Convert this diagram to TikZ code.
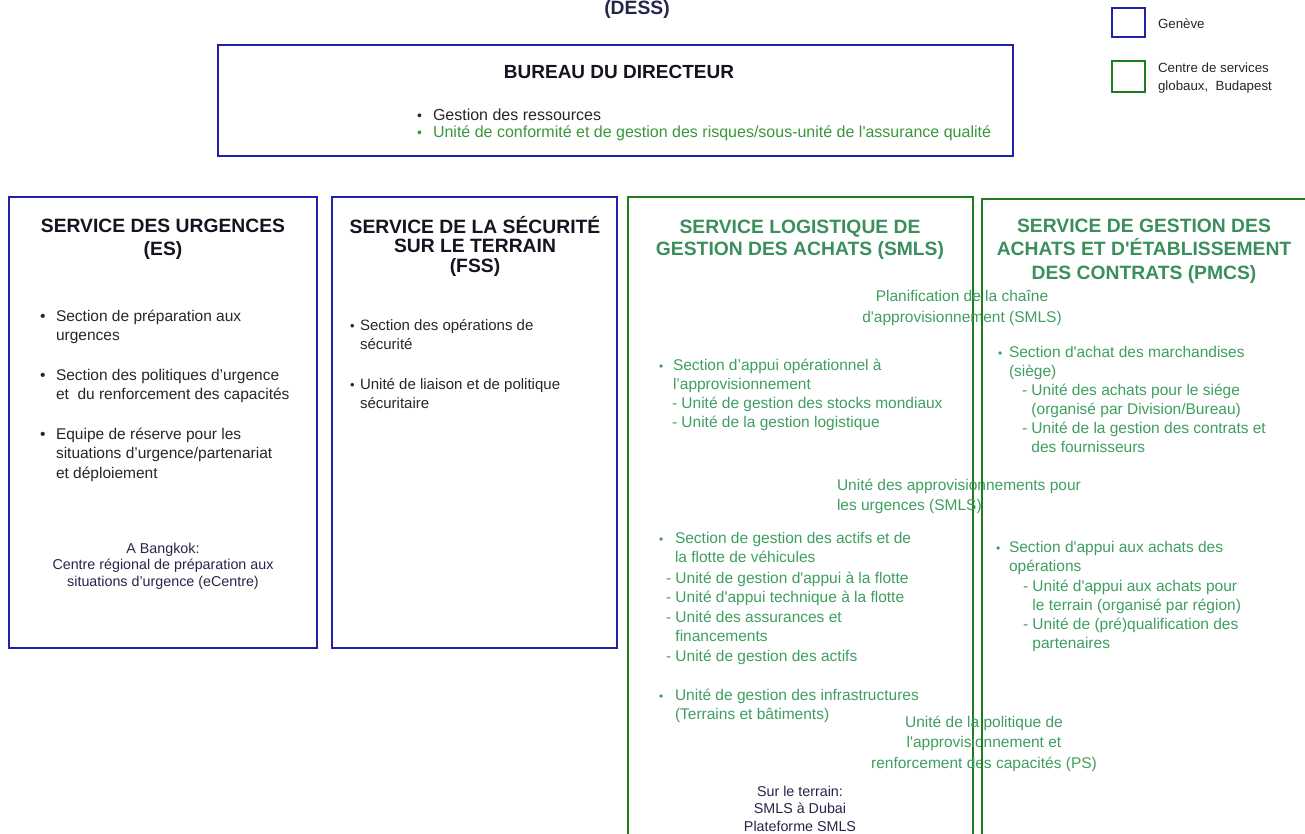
\documentclass[tikz,border=0pt]{standalone}
\usepackage{fontspec}
\setmainfont{Liberation Sans}
\newfontfamily\lsans{Liberation Sans}
\definecolor{bluebox}{HTML}{2020A8}
\definecolor{greenbox}{HTML}{1E7E1E}
\definecolor{gtitle}{HTML}{3A8F5C}
\definecolor{gtext}{HTML}{3E9E60}
\definecolor{gbureau}{HTML}{3A963A}
\definecolor{dtext}{HTML}{262626}
\definecolor{navy}{HTML}{25254A}
\definecolor{ttext}{HTML}{141420}
\setlength{\lineskiplimit}{-100pt}
\begin{document}
\begin{tikzpicture}[x=1pt,y=-1pt,
  every node/.style={inner sep=0pt,outer sep=0pt},
  bframe/.style={draw=bluebox,line width=1.8pt,anchor=north west},
  gframe/.style={draw=greenbox,line width=1.8pt,anchor=north west},
  ttl/.style={anchor=base,align=center,text=ttext,font=\lsans\bfseries\fontsize{19.3}{#1}\selectfont},
  gttl/.style={anchor=base,align=center,text=gtitle,font=\lsans\bfseries\fontsize{19.3}{#1}\selectfont},
  body/.style={anchor=base west,align=left,text=dtext,font=\lsans\fontsize{15.5}{#1}\selectfont},
  gbody/.style={anchor=base west,align=left,text=gtext,font=\lsans\fontsize{15.5}{#1}\selectfont},
  gcent/.style={anchor=base,align=center,text=gtext,font=\lsans\fontsize{15.5}{#1}\selectfont},
  ncent/.style={anchor=base,align=center,text=navy,font=\lsans\fontsize{14.3}{#1}\selectfont},
  dot/.style={anchor=base west,text=dtext,font=\lsans\fontsize{15.5}{19}\selectfont},
  gdot/.style={anchor=base west,text=gtext,font=\lsans\fontsize{12}{19}\selectfont},
]
\lsans
\useasboundingbox (0,0) rectangle (1305,833);

% title (cut off)
\node[ttl=20,text=navy] (dess) at (637,14) {(DESS)};

% legend
\node[bframe,minimum width=33pt,minimum height=29pt] (lgb) at (1112,8) {};
\node[gframe,minimum width=33pt,minimum height=31pt] (lgg) at (1112,61) {};
\node[anchor=base west,text=dtext,font=\lsans\fontsize{13.3}{18}\selectfont] (lgbt) at (1158,28) {Genève};
\node[anchor=base west,align=left,text=dtext,font=\lsans\fontsize{13.3}{18}\selectfont] (lggt) at (1158,90) {Centre de services\\globaux,\ \ Budapest};

% bureau
\node[bframe,minimum width=795pt,minimum height=111pt] (bureau) at (218,45) {};
\node[ttl=20,font=\lsans\bfseries\fontsize{19}{20}\selectfont] (bureaut) at (619,78) {BUREAU DU DIRECTEUR};
\node[dot,font=\lsans\fontsize{14}{17}\selectfont] (bd1) at (417,120) {•};
\node[body=17,font=\lsans\fontsize{16}{17}\selectfont] (bt1) at (433,120) {Gestion des ressources};
\node[dot,text=gbureau,font=\lsans\fontsize{14}{17}\selectfont] (bd2) at (417,137) {•};
\node[body=17,text=gbureau,font=\lsans\fontsize{16}{17}\selectfont] (bt2) at (433,137) {Unité de conformité et de gestion des risques/sous-unité de l'assurance qualité};

% ES
\node[bframe,minimum width=308pt,minimum height=451pt] (es) at (9,197) {};
\node[ttl=23] (est) at (163,255) {SERVICE DES URGENCES\\(ES)};
\node[dot] (esd1) at (40,321) {•};
\node[body=19.5] (es1) at (56,340.5) {Section de préparation aux\\urgences};
\node[dot] (esd2) at (40,380) {•};
\node[body=19.5] (es2) at (56,399.5) {Section des politiques d’urgence\\et\ \ du renforcement des capacités};
\node[dot] (esd3) at (40,439) {•};
\node[body=19.5] (es3) at (56,478) {Equipe de réserve pour les\\situations d’urgence/partenariat\\et déploiement};
\node[ncent=16.5] (esb) at (163,586) {A Bangkok:\\Centre régional de préparation aux\\situations d’urgence (eCentre)};

% FSS
\node[bframe,minimum width=285pt,minimum height=451pt] (fss) at (332,197) {};
\node[ttl=19.5] (fsst) at (475,272) {SERVICE DE LA SÉCURITÉ\\SUR LE TERRAIN\\(FSS)};
\node[dot,font=\lsans\fontsize{13}{19}\selectfont] (fd1) at (350,330) {•};
\node[body=19,font=\lsans\fontsize{15}{19}\selectfont] (f1) at (360,349) {Section des opérations de\\sécurité};
\node[dot,font=\lsans\fontsize{13}{19}\selectfont] (fd2) at (350,389) {•};
\node[body=19,font=\lsans\fontsize{15}{19}\selectfont] (f2) at (360,408) {Unité de liaison et de politique\\sécuritaire};

% SMLS
\node[gframe,minimum width=345pt,minimum height=660pt] (smls) at (628,197) {};
\node[gttl=22] (smlst) at (800,255) {SERVICE LOGISTIQUE DE\\GESTION DES ACHATS (SMLS)};
\node[gcent=21] (plan) at (962,322) {Planification de la chaîne\\d'approvisionnement (SMLS)};
\node[gdot] (sd1) at (659,370) {•};
\node[gbody=19] (s1) at (673,389) {Section d’appui opérationnel à\\l’approvisionnement};
\node[gbody=19] (s1a) at (672,427) {- Unité de gestion des stocks mondiaux\\- Unité de la gestion logistique};
\node[gbody=20] (urg) at (837,510) {Unité des approvisionnements pour\\les urgences (SMLS)};
\node[gdot] (sd2) at (659,543) {•};
\node[gbody=19.5] (s2) at (675,562.5) {Section de gestion des actifs et de\\la flotte de véhicules};
\node[gbody=19.5] (s2a) at (666,661) {- Unité de gestion d'appui à la flotte\\- Unité d'appui technique à la flotte\\- Unité des assurances et\\\phantom{- }financements\\- Unité de gestion des actifs};
\node[gdot] (sd3) at (659,700) {•};
\node[gbody=19.5] (s3) at (675,719.5) {Unité de gestion des infrastructures\\(Terrains et bâtiments)};
\node[gcent=20.5] (ps) at (984,768) {Unité de la politique de\\l'approvisionnement et\\renforcement des capacités (PS)};
\node[ncent=17.5] (dub) at (800,831) {Sur le terrain:\\SMLS à Dubai\\Plateforme SMLS};

% PMCS
\node[gframe,minimum width=324pt,minimum height=660pt] (pmcs) at (982,199) {};
\node[gttl=23.5] (pmcst) at (1144,279) {SERVICE DE GESTION DES\\ACHATS ET D'ÉTABLISSEMENT\\DES CONTRATS (PMCS)};
\node[gdot] (pd1) at (998,357) {•};
\node[gbody=19] (p1) at (1009,376) {Section d'achat des marchandises\\(siège)};
\node[gbody=19] (p1a) at (1022,452) {- Unité des achats pour le siége\\\phantom{- }(organisé par Division/Bureau)\\- Unité de la gestion des contrats et\\\phantom{- }des fournisseurs};
\node[gdot] (pd2) at (996,552) {•};
\node[gbody=19.5] (p2) at (1009,571.5) {Section d'appui aux achats des\\opérations};
\node[gbody=19] (p2a) at (1023,648) {- Unité d'appui aux achats pour\\\phantom{- }le terrain (organisé par région)\\- Unité de (pré)qualification des\\\phantom{- }partenaires};
\end{tikzpicture}
\end{document}
